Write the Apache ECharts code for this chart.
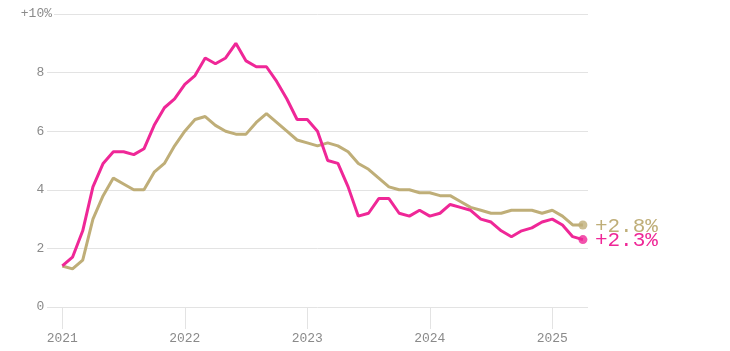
<!DOCTYPE html>
<html>
<head>
<meta charset="utf-8">
<script src="https://cdn.jsdelivr.net/npm/echarts@6/dist/echarts.min.js"></script>
<style>
  html, body { margin: 0; padding: 0; background: #fff; }
  #chart { width: 730px; height: 351px; }
</style>
</head>
<body>
<div id="chart"></div>
<script>
// monthly, Jan 2021 .. Apr 2025
const months = [];
for (let y = 2021; y <= 2025; y++) {
  for (let m = 1; m <= 12; m++) {
    if (y === 2025 && m > 4) break;
    months.push(y + "-" + String(m).padStart(2, "0"));
  }
}

const headline = [
  1.4, 1.7, 2.6, 4.1, 4.9, 5.3, 5.3, 5.2, 5.4, 6.2, 6.8, 7.1,
  7.6, 7.9, 8.5, 8.3, 8.5, 9.0, 8.4, 8.2, 8.2, 7.7, 7.1, 6.4,
  6.4, 6.0, 5.0, 4.9, 4.1, 3.1, 3.2, 3.7, 3.7, 3.2, 3.1, 3.3,
  3.1, 3.2, 3.5, 3.4, 3.3, 3.0, 2.9, 2.6, 2.4, 2.6, 2.7, 2.9,
  3.0, 2.8, 2.4, 2.3
];

const core = [
  1.4, 1.3, 1.6, 3.0, 3.8, 4.4, 4.2, 4.0, 4.0, 4.6, 4.9, 5.5,
  6.0, 6.4, 6.5, 6.2, 6.0, 5.9, 5.9, 6.3, 6.6, 6.3, 6.0, 5.7,
  5.6, 5.5, 5.6, 5.5, 5.3, 4.9, 4.7, 4.4, 4.1, 4.0, 4.0, 3.9,
  3.9, 3.8, 3.8, 3.6, 3.4, 3.3, 3.2, 3.2, 3.3, 3.3, 3.3, 3.2,
  3.3, 3.1, 2.8, 2.8
];

const yearTicks = [0, 12, 24, 36, 48];
const yTicks = [0, 2, 4, 6, 8, 10];

const PINK = "#ef2797";
const GOLD = "#bfae78";
const GRAY = "#8a8a8a";
const FONT = "Liberation Mono";

function pairs(values) {
  return values.map((v, i) => [i, v]);
}

function last(values) {
  return [[values.length - 1, values[values.length - 1]]];
}

const chart = echarts.init(document.getElementById("chart"));

const option = {
  animation: false,
  grid: { left: 47, right: 142, top: 14, bottom: 44 },
  xAxis: {
    type: "value",
    min: -1.5,
    max: 51.5,
    axisLine: { show: false },
    splitLine: { show: false },
    axisTick: {
      show: true,
      customValues: yearTicks,
      length: 22,
      lineStyle: { color: "#e3e3e3", width: 1 },
    },
    axisLabel: {
      customValues: yearTicks,
      formatter: (v) => String(2021 + Math.round(v / 12)),
      margin: 25,
      color: GRAY,
      fontFamily: FONT,
      fontSize: 13,
    },
  },
  yAxis: [
    {
      type: "value",
      min: 0,
      max: 10,
      interval: 2,
      axisLine: { show: false },
      axisTick: { show: false },
      axisLabel: { show: false },
      splitLine: { lineStyle: { color: "#e3e3e3", width: 1 } },
    },
    {
      type: "value",
      position: "left",
      z: 5,
      min: 0,
      max: 10,
      interval: 2,
      axisLine: { show: false },
      axisTick: { show: false },
      splitLine: { show: false },
      axisLabel: {
        customValues: yTicks,
        margin: -7,
        color: GRAY,
        fontFamily: FONT,
        fontSize: 13,
        formatter: (v) => (v === 10 ? "{t|+10%}" : "{n|" + v + "}{h|%}"),
        rich: {
          t: { color: GRAY, fontFamily: FONT, fontSize: 13, backgroundColor: "#fff", padding: [0, 2, 0, 0] },
          n: { color: GRAY, fontFamily: FONT, fontSize: 13 },
          h: { color: "transparent", fontFamily: FONT, fontSize: 13, padding: [0, 2, 0, 0] },
        },
      },
    },
  ],
  series: [
    {
      name: "Core",
      type: "line",
      data: pairs(core),
      symbol: "none",
      lineStyle: { color: GOLD, width: 3 },
      endLabel: {
        show: true,
        formatter: "+" + core[core.length - 1].toFixed(1) + "%",
        color: GOLD,
        fontFamily: FONT,
        fontSize: 21,
        distance: 12,
        offset: [0, 1],
      },
      z: 2,
    },
    {
      name: "Headline",
      type: "line",
      data: pairs(headline),
      symbol: "none",
      lineStyle: { color: PINK, width: 3 },
      endLabel: {
        show: true,
        formatter: "+" + headline[headline.length - 1].toFixed(1) + "%",
        color: PINK,
        fontFamily: FONT,
        fontSize: 21,
        distance: 12,
        offset: [0, 1],
      },
      z: 3,
    },
    {
      type: "scatter",
      data: last(core),
      symbolSize: 9,
      itemStyle: { color: GOLD },
      z: 4,
    },
    {
      type: "scatter",
      data: last(headline),
      symbolSize: 9,
      itemStyle: { color: PINK },
      z: 4,
    },
  ],
};

chart.setOption(option);
</script>
</body>
</html>
